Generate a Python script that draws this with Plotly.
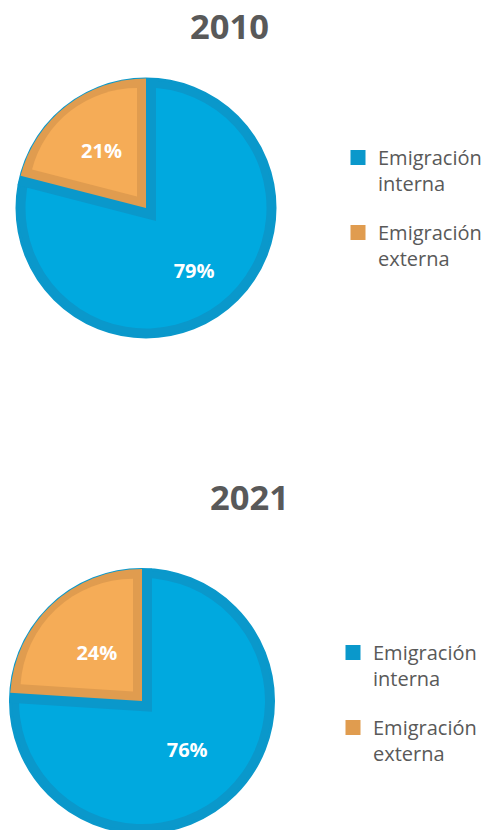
import math
import plotly.graph_objects as go

# ---------------- data ----------------
categories = ["Emigración interna", "Emigración externa"]
years = ["2010", "2021"]
values_2010 = [79, 21]
values_2021 = [76, 24]

# ---------------- style ----------------
fill_colors = ["#00A9DF", "#F5AC57"]
border_colors = ["#0A98CB", "#E09C4F"]
TRANSPARENT = "rgba(0,0,0,0)"
TEXT_GREY = "#595959"

OFF = 0                            # page body margin is removed below
FIG_W, FIG_H = 501, 870            # bottom part falls outside the 830 px view
BW_BLUE, BW_ORANGE = 10, 9

# layout geometry in page pixels
charts = [
    dict(year=years[0], values=values_2010, cx=146, cy=208, R=130.5,
         text_r=(78.5, 72.6), legend="legend", title_xy=(229, 26),
         legend_xy=(378, 138)),
    dict(year=years[1], values=values_2021, cx=142, cy=701, R=133,
         text_r=(66, 66), legend="legend2", title_xy=(249, 497),
         legend_xy=(373, 633)),
]

legend_labels = [c.replace(" ", "<br>") for c in categories]


def domain(cx, cy, r):
    cx, cy = cx - OFF, cy - OFF
    r = min(r, cx, FIG_W - cx, cy, FIG_H - cy)
    return dict(x=[(cx - r) / FIG_W, (cx + r) / FIG_W],
                y=[1 - (cy + r) / FIG_H, 1 - (cy - r) / FIG_H])


def pie(labels, values, colors, cx, cy, r, **kw):
    base = dict(labels=labels, values=values, sort=False, direction="clockwise",
                rotation=0, hoverinfo="skip", textinfo="none", showlegend=False,
                marker=dict(colors=colors, line=dict(width=0)),
                domain=domain(cx, cy, r))
    base.update(kw)
    return go.Pie(**base)


fig = go.Figure()
annotations = []
layout_legends = {}
for ch in charts:
    vals = ch["values"]
    cx, cy, R = ch["cx"], ch["cy"], ch["R"]
    h = math.pi * vals[1] / sum(vals)           # half angle of the small slice
    ub = (math.sin(h), math.cos(h))             # bisector of the large slice (screen)
    uo = (-ub[0], -ub[1])                       # bisector of the small slice

    # 1a. dark base disk, legend entry of the first category
    fig.add_trace(pie([legend_labels[0]], [vals[0]], [border_colors[0]], cx, cy, R - 1.5,
                      showlegend=True, legend=ch["legend"],
                      legendgroup=ch["year"] + "a",
                      marker=dict(colors=[border_colors[0]],
                                  line=dict(width=3, color=border_colors[0]))))
    # 1b. legend entry of the second category (tiny, hidden under the pie)
    fig.add_trace(pie([legend_labels[1]], [vals[1]], [border_colors[1]], cx, cy, 3,
                      showlegend=True, legend=ch["legend"],
                      legendgroup=ch["year"] + "b",
                      marker=dict(colors=[border_colors[1]],
                                  line=dict(width=3, color=border_colors[1]))))
    # 2. bright blue inner disk
    fig.add_trace(pie(legend_labels, vals, [fill_colors[0], fill_colors[0]],
                      cx, cy, R - BW_BLUE))
    # 3. dark blue band along the slice boundaries
    s3 = BW_BLUE / math.sin(h)
    fig.add_trace(pie(legend_labels, vals, [TRANSPARENT, border_colors[0]],
                      cx + s3 * ub[0], cy + s3 * ub[1], R + s3 * math.cos(h) - 0.5))
    # 4. dark orange slice
    fig.add_trace(pie(legend_labels, vals, [TRANSPARENT, border_colors[1]], cx, cy, R - 1))
    # 5. bright orange inset
    s5 = BW_ORANGE / math.sin(h)
    r5 = R - BW_ORANGE - s5 * (1 + math.cos(h)) / 2
    fig.add_trace(pie(legend_labels, vals, [TRANSPARENT, fill_colors[1]],
                      cx + s5 * uo[0], cy + s5 * uo[1], r5))
    # 6. percentage labels
    r_ins = min(1 / (1 + 1 / math.sin(h)), 0.5)
    r6 = ch["text_r"][1] / (1 - r_ins)
    p6 = max(ch["text_r"][0] / r6 - 0.5, 0)
    fig.add_trace(pie(legend_labels, vals, [TRANSPARENT, TRANSPARENT], cx, cy,
                      r6 * (1 + p6), pull=[p6, 0],
                      textinfo="percent", textposition="inside",
                      insidetextorientation="horizontal",
                      textfont=dict(family="Open Sans", size=20, color="white",
                                    weight="bold")))

    tx, ty = ch["title_xy"]
    annotations.append(dict(text=ch["year"], x=(tx - OFF) / FIG_W,
                            y=1 - (ty - OFF) / FIG_H,
                            xref="paper", yref="paper", xanchor="center",
                            yanchor="middle", showarrow=False,
                            font=dict(family="Open Sans", size=34.5, color=TEXT_GREY,
                                      weight="bold")))

    lx, ly = ch["legend_xy"]
    layout_legends[ch["legend"]] = dict(
        x=(lx - 40 - OFF) / FIG_W, y=1 - (ly - OFF) / FIG_H,
        xanchor="left", yanchor="top", valign="top",
        bgcolor="rgba(0,0,0,0)", traceorder="grouped", tracegroupgap=20,
        font=dict(family="Open Sans", size=20, color=TEXT_GREY))

fig.update_layout(
    width=FIG_W, height=FIG_H,
    margin=dict(l=0, r=0, t=0, b=0),
    paper_bgcolor="white", plot_bgcolor="white",
    annotations=annotations,
    **layout_legends,
)

fig.write_html("out.html", config={"displayModeBar": False},
               post_script="document.body.style.margin='0px';"
                           "document.body.style.overflow='hidden';")
